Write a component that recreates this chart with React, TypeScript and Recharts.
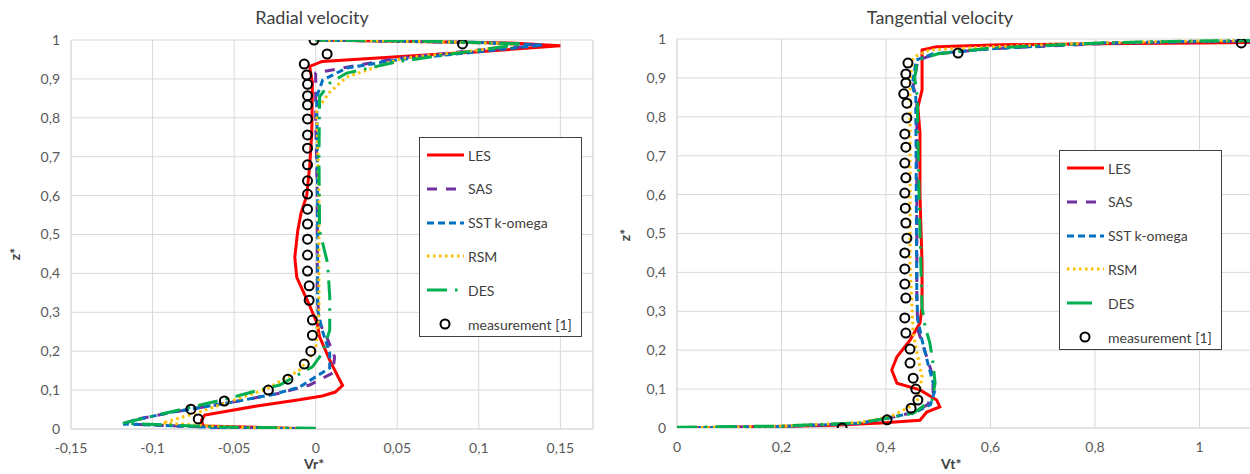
import { ScatterChart, Scatter, XAxis, YAxis, CartesianGrid, ReferenceLine } from 'recharts';

// each point: v = velocity component, z = height
type Pt = { v: number; z: number };

const zTicks = [0, 0.1, 0.2, 0.3, 0.4, 0.5, 0.6, 0.7, 0.8, 0.9, 1];
const vrTicks = [-0.15, -0.1, -0.05, 0, 0.05, 0.1, 0.15];
const vtTicks = [0, 0.2, 0.4, 0.6, 0.8, 1];

// Radial velocity profiles
const radialLES: Pt[] = [
    { v: 0, z: 0 }, { v: -0.069, z: 0.008 }, { v: -0.07, z: 0.022 }, { v: -0.068, z: 0.036 },
    { v: -0.035, z: 0.06 }, { v: -0.01, z: 0.075 }, { v: 0.004, z: 0.085 }, { v: 0.012, z: 0.095 },
    { v: 0.0165, z: 0.112 }, { v: 0.013, z: 0.14 }, { v: 0.0086, z: 0.177 }, { v: 0.0024, z: 0.237 },
    { v: 0.001, z: 0.27 }, { v: -0.004, z: 0.32 }, { v: -0.0116, z: 0.39 }, { v: -0.0128, z: 0.442 },
    { v: -0.011, z: 0.51 }, { v: -0.009, z: 0.555 }, { v: -0.0055, z: 0.6 }, { v: -0.0037, z: 0.675 },
    { v: -0.0024, z: 0.76 }, { v: -0.002, z: 0.89 }, { v: -0.0037, z: 0.932 }, { v: 0.004, z: 0.945 },
    { v: 0.05, z: 0.957 }, { v: 0.1, z: 0.97 }, { v: 0.15, z: 0.985 }, { v: 0.12, z: 0.992 },
    { v: 0.06, z: 0.996 }, { v: 0, z: 1 },
];
const radialSAS: Pt[] = [
    { v: 0, z: 0 }, { v: -0.06, z: 0.004 }, { v: -0.118, z: 0.013 }, { v: -0.11, z: 0.025 },
    { v: -0.085, z: 0.045 }, { v: -0.05, z: 0.07 }, { v: -0.022, z: 0.092 }, { v: -0.0037, z: 0.113 },
    { v: 0.0104, z: 0.144 }, { v: 0.0116, z: 0.185 }, { v: 0.0067, z: 0.237 }, { v: 0.0024, z: 0.272 },
    { v: 0.001, z: 0.34 }, { v: 0.001, z: 0.6 }, { v: 0, z: 0.8 }, { v: 0, z: 0.915 },
    { v: 0.019, z: 0.93 }, { v: 0.05, z: 0.953 }, { v: 0.1, z: 0.974 }, { v: 0.14, z: 0.987 },
    { v: 0.1, z: 0.993 }, { v: 0, z: 1 },
];
const radialSST: Pt[] = [
    { v: 0, z: 0 }, { v: -0.06, z: 0.004 }, { v: -0.118, z: 0.013 }, { v: -0.112, z: 0.022 },
    { v: -0.091, z: 0.041 }, { v: -0.051, z: 0.069 }, { v: -0.025, z: 0.09 }, { v: -0.0098, z: 0.108 },
    { v: 0.0086, z: 0.157 }, { v: 0.0086, z: 0.195 }, { v: 0.004, z: 0.254 }, { v: 0.0012, z: 0.306 },
    { v: 0.0012, z: 0.6 }, { v: 0.0006, z: 0.854 }, { v: 0.0043, z: 0.897 }, { v: 0.019, z: 0.928 },
    { v: 0.05, z: 0.949 }, { v: 0.1, z: 0.97 }, { v: 0.139, z: 0.987 }, { v: 0.1, z: 0.994 },
    { v: 0, z: 1 },
];
const radialRSM: Pt[] = [
    { v: 0, z: 0 }, { v: -0.05, z: 0.005 }, { v: -0.094, z: 0.015 }, { v: -0.071, z: 0.044 },
    { v: -0.03, z: 0.103 }, { v: -0.0098, z: 0.152 }, { v: 0, z: 0.203 }, { v: 0.002, z: 0.3 },
    { v: 0.002, z: 0.6 }, { v: 0.0006, z: 0.82 }, { v: 0.0086, z: 0.866 }, { v: 0.019, z: 0.905 },
    { v: 0.053, z: 0.953 }, { v: 0.1, z: 0.974 }, { v: 0.125, z: 0.99 }, { v: 0.08, z: 0.995 },
    { v: 0, z: 1 },
];
const radialDES: Pt[] = [
    { v: 0, z: 0.002 }, { v: -0.06, z: 0.005 }, { v: -0.118, z: 0.015 }, { v: -0.097, z: 0.036 },
    { v: -0.057, z: 0.075 }, { v: -0.03, z: 0.105 }, { v: -0.022, z: 0.113 }, { v: -0.002, z: 0.16 },
    { v: 0.004, z: 0.195 }, { v: 0.0086, z: 0.254 }, { v: 0.0086, z: 0.34 }, { v: 0.0073, z: 0.426 },
    { v: 0.0024, z: 0.51 }, { v: 0.002, z: 0.7 }, { v: 0.0024, z: 0.854 }, { v: 0.0086, z: 0.889 },
    { v: 0.019, z: 0.915 }, { v: 0.05, z: 0.944 }, { v: 0.1, z: 0.974 }, { v: 0.127, z: 0.99 },
    { v: 0.06, z: 0.998 }, { v: 0, z: 1 },
];
const radialMeasured: Pt[] = [
    { v: -0.001, z: 1.0 }, { v: 0.09, z: 0.99 }, { v: 0.007, z: 0.964 }, { v: -0.007, z: 0.938 },
    { v: -0.0055, z: 0.91 }, { v: -0.005, z: 0.886 }, { v: -0.005, z: 0.857 }, { v: -0.005, z: 0.833 },
    { v: -0.005, z: 0.797 }, { v: -0.005, z: 0.756 }, { v: -0.005, z: 0.722 }, { v: -0.005, z: 0.679 },
    { v: -0.005, z: 0.638 }, { v: -0.005, z: 0.604 }, { v: -0.005, z: 0.565 }, { v: -0.005, z: 0.527 },
    { v: -0.005, z: 0.488 }, { v: -0.005, z: 0.447 }, { v: -0.005, z: 0.406 }, { v: -0.004, z: 0.368 },
    { v: -0.004, z: 0.331 }, { v: -0.002, z: 0.28 }, { v: -0.002, z: 0.241 }, { v: -0.003, z: 0.2 },
    { v: -0.007, z: 0.167 }, { v: -0.017, z: 0.128 }, { v: -0.029, z: 0.1 }, { v: -0.056, z: 0.072 },
    { v: -0.0765, z: 0.051 }, { v: -0.072, z: 0.026 },
];

// Tangential velocity profiles
const tangLES: Pt[] = [
    { v: 0, z: 0 }, { v: 0.15, z: 0.003 }, { v: 0.3, z: 0.007 }, { v: 0.39, z: 0.013 },
    { v: 0.465, z: 0.02 }, { v: 0.478, z: 0.041 }, { v: 0.503, z: 0.054 }, { v: 0.497, z: 0.072 },
    { v: 0.465, z: 0.098 }, { v: 0.421, z: 0.115 }, { v: 0.411, z: 0.149 }, { v: 0.421, z: 0.183 },
    { v: 0.446, z: 0.226 }, { v: 0.465, z: 0.27 }, { v: 0.469, z: 0.311 }, { v: 0.469, z: 0.424 },
    { v: 0.467, z: 0.509 }, { v: 0.465, z: 0.6 }, { v: 0.465, z: 0.758 }, { v: 0.461, z: 0.825 },
    { v: 0.469, z: 0.869 }, { v: 0.469, z: 0.938 }, { v: 0.469, z: 0.972 }, { v: 0.497, z: 0.98 },
    { v: 0.62, z: 0.985 }, { v: 0.8, z: 0.988 }, { v: 1.0, z: 0.99 }, { v: 1.2, z: 0.992 },
];
const tangSAS: Pt[] = [
    { v: 0, z: 0 }, { v: 0.2, z: 0.004 }, { v: 0.35, z: 0.012 }, { v: 0.402, z: 0.025 },
    { v: 0.452, z: 0.04 }, { v: 0.48, z: 0.06 }, { v: 0.49, z: 0.09 }, { v: 0.49, z: 0.131 },
    { v: 0.478, z: 0.183 }, { v: 0.461, z: 0.252 }, { v: 0.459, z: 0.337 }, { v: 0.459, z: 0.6 },
    { v: 0.459, z: 0.85 }, { v: 0.452, z: 0.877 }, { v: 0.461, z: 0.946 }, { v: 0.497, z: 0.962 },
    { v: 0.6, z: 0.975 }, { v: 0.81, z: 0.988 }, { v: 1.0, z: 0.993 }, { v: 1.2, z: 0.995 },
];
const tangSST: Pt[] = [
    { v: 0, z: 0 }, { v: 0.2, z: 0.004 }, { v: 0.35, z: 0.012 }, { v: 0.402, z: 0.025 },
    { v: 0.455, z: 0.04 }, { v: 0.485, z: 0.06 }, { v: 0.494, z: 0.098 }, { v: 0.48, z: 0.167 },
    { v: 0.469, z: 0.226 }, { v: 0.461, z: 0.278 }, { v: 0.459, z: 0.337 }, { v: 0.458, z: 0.6 },
    { v: 0.457, z: 0.85 }, { v: 0.45, z: 0.88 }, { v: 0.458, z: 0.946 }, { v: 0.49, z: 0.962 },
    { v: 0.6, z: 0.975 }, { v: 0.81, z: 0.99 }, { v: 1.0, z: 0.994 }, { v: 1.2, z: 0.996 },
];
const tangRSM: Pt[] = [
    { v: 0, z: 0 }, { v: 0.2, z: 0.005 }, { v: 0.35, z: 0.014 }, { v: 0.41, z: 0.03 },
    { v: 0.459, z: 0.064 }, { v: 0.469, z: 0.131 }, { v: 0.461, z: 0.183 }, { v: 0.452, z: 0.244 },
    { v: 0.45, z: 0.303 }, { v: 0.446, z: 0.424 }, { v: 0.446, z: 0.7 }, { v: 0.446, z: 0.895 },
    { v: 0.452, z: 0.953 }, { v: 0.484, z: 0.972 }, { v: 0.6, z: 0.98 }, { v: 0.81, z: 0.99 },
    { v: 1.0, z: 0.995 }, { v: 1.2, z: 0.997 },
];
const tangDES: Pt[] = [
    { v: 0, z: 0.002 }, { v: 0.2, z: 0.005 }, { v: 0.35, z: 0.013 }, { v: 0.402, z: 0.025 },
    { v: 0.452, z: 0.038 }, { v: 0.488, z: 0.072 }, { v: 0.494, z: 0.115 }, { v: 0.49, z: 0.167 },
    { v: 0.484, z: 0.218 }, { v: 0.475, z: 0.26 }, { v: 0.469, z: 0.31 }, { v: 0.465, z: 0.5 },
    { v: 0.461, z: 0.74 }, { v: 0.46, z: 0.85 }, { v: 0.455, z: 0.9 }, { v: 0.46, z: 0.946 },
    { v: 0.5, z: 0.962 }, { v: 0.6, z: 0.977 }, { v: 0.81, z: 0.99 }, { v: 1.0, z: 0.995 },
    { v: 1.2, z: 0.997 },
];
const tangMeasured: Pt[] = [
    { v: 1.08, z: 0.99 }, { v: 0.538, z: 0.964 }, { v: 0.442, z: 0.938 }, { v: 0.438, z: 0.91 },
    { v: 0.438, z: 0.887 }, { v: 0.434, z: 0.859 }, { v: 0.44, z: 0.835 }, { v: 0.44, z: 0.797 },
    { v: 0.436, z: 0.756 }, { v: 0.438, z: 0.722 }, { v: 0.436, z: 0.681 }, { v: 0.438, z: 0.643 },
    { v: 0.436, z: 0.604 }, { v: 0.437, z: 0.565 }, { v: 0.438, z: 0.527 }, { v: 0.44, z: 0.488 },
    { v: 0.436, z: 0.45 }, { v: 0.436, z: 0.409 }, { v: 0.436, z: 0.37 }, { v: 0.438, z: 0.334 },
    { v: 0.436, z: 0.283 }, { v: 0.438, z: 0.244 }, { v: 0.446, z: 0.203 }, { v: 0.446, z: 0.167 },
    { v: 0.452, z: 0.128 }, { v: 0.457, z: 0.1 }, { v: 0.461, z: 0.072 }, { v: 0.448, z: 0.051 },
    { v: 0.402, z: 0.021 }, { v: 0.316, z: 0 },
];

const seriesStyles = [
    { name: 'LES', stroke: '#FF0000', dash: undefined },
    { name: 'SAS', stroke: '#7030A0', dash: '10 9' },
    { name: 'SST k-omega', stroke: '#0070C0', dash: '7 4' },
    { name: 'RSM', stroke: '#FFC000', dash: '2.5 3.5' },
    { name: 'DES', stroke: '#00B050', dash: '20 8 2.5 8' },
];

const fmt = (v: number) => String(v).replace('.', ',');
const tickStyle = { fontSize: 14, fill: '#595959' };
const noShape = () => <g />;

const Ring = (props: any) => (
    <circle cx={props.cx} cy={props.cy} r={4.5} fill="none" stroke="#000" strokeWidth={2} />
);

// legend box drawn by hand; the right chart's DES swatch is a plain short dash
function Legend({ left, top, full }: { left: number; top: number; full: boolean }) {
    return (
        <div style={{
            position: 'absolute', left, top, width: 163, height: 200, border: '1px solid #404040',
            background: '#fff', boxSizing: 'border-box', fontSize: 14, color: '#404040',
        }}>
            {seriesStyles.map((s, i) => {
                const short = i === 4 && !full;
                return (
                    <div key={s.name} style={{ position: 'absolute', left: 6, top: 8 + i * 33.8, height: 18, display: 'flex', alignItems: 'center' }}>
                        <svg width={40} height={18}>
                            <line x1={1} y1={9} x2={short ? 26 : 38} y2={9} stroke={s.stroke} strokeWidth={3}
                                strokeDasharray={short ? undefined : s.dash} />
                        </svg>
                        <span style={{ marginLeft: 2 }}>{s.name}</span>
                    </div>
                );
            })}
            <div style={{ position: 'absolute', left: 6, top: 8 + 5 * 33.8, height: 18, display: 'flex', alignItems: 'center' }}>
                <svg width={40} height={18}>
                    <circle cx={19} cy={9} r={4.5} fill="none" stroke="#000" strokeWidth={2} />
                </svg>
                <span style={{ marginLeft: 2 }}>measurement [1]</span>
            </div>
        </div>
    );
}

function ProfileChart({ width, margin, yWidth, xHeight, domain, ticks, series, measured, edge }: any) {
    return (
        <ScatterChart width={width} height={474} margin={margin}>
            <CartesianGrid stroke="#d9d9d9" strokeWidth={1} />
            <XAxis type="number" dataKey="v" domain={domain} ticks={ticks} allowDataOverflow
                tickFormatter={fmt} tick={tickStyle} tickLine={false} axisLine={{ stroke: '#d9d9d9' }}
                height={xHeight} tickMargin={8} />
            <YAxis type="number" dataKey="z" domain={[0, 1]} ticks={zTicks} allowDataOverflow
                tickFormatter={fmt} tick={tickStyle} tickLine={false} axisLine={{ stroke: '#d9d9d9' }}
                width={yWidth} tickMargin={5} />
            {edge !== undefined && <ReferenceLine x={edge} stroke="#d9d9d9" />}
            {series.map((data: Pt[], i: number) => (
                <Scatter key={seriesStyles[i].name} name={seriesStyles[i].name} data={data}
                    line={{ stroke: seriesStyles[i].stroke, strokeWidth: 3, strokeDasharray: seriesStyles[i].dash }}
                    lineType="joint" shape={noShape} isAnimationActive={false} />
            ))}
            <Scatter name="measurement [1]" data={measured} shape={Ring} isAnimationActive={false} />
        </ScatterChart>
    );
}

export default function App() {
    const title = { position: 'absolute' as const, top: 6, fontSize: 18, color: '#404040', textAlign: 'center' as const, width: 300 };
    const axisTitle = { position: 'absolute' as const, fontSize: 14, fontWeight: 700, color: '#404040', lineHeight: '16px' };
    return (
        <div style={{
            position: 'fixed', left: 0, top: 0, width: 1250, height: 474, overflow: 'hidden',
            background: '#fff', fontFamily: 'Lato, "Open Sans", sans-serif',
        }}>
            <div style={{ position: 'absolute', left: 0, top: 0 }}>
                <ProfileChart width={600} margin={{ top: 40, right: 7, bottom: 0, left: 0 }} yWidth={71} xHeight={45}
                    domain={[-0.15, 0.17]} ticks={vrTicks} edge={0.17}
                    series={[radialLES, radialSAS, radialSST, radialRSM, radialDES]} measured={radialMeasured} />
            </div>
            <div style={{ position: 'absolute', left: 620, top: 0 }}>
                <ProfileChart width={700} margin={{ top: 39, right: 16, bottom: 0, left: 0 }} yWidth={57} xHeight={46}
                    domain={[0, 1.2]} ticks={vtTicks}
                    series={[tangLES, tangSAS, tangSST, tangRSM, tangDES]} measured={tangMeasured} />
            </div>
            <div style={{ ...title, left: 162 }}>Radial velocity</div>
            <div style={{ ...title, left: 790 }}>Tangential velocity</div>
            <div style={{ ...axisTitle, left: 304, top: 456 }}>Vr*</div>
            <div style={{ ...axisTitle, left: 941, top: 456 }}>Vt*</div>
            <div style={{ ...axisTitle, left: 9, top: 246, transform: 'rotate(-90deg)' }}>z*</div>
            <div style={{ ...axisTitle, left: 619, top: 227, transform: 'rotate(-90deg)' }}>z*</div>
            <Legend left={419} top={137} full={true} />
            <Legend left={1059} top={150} full={false} />
        </div>
    );
}
